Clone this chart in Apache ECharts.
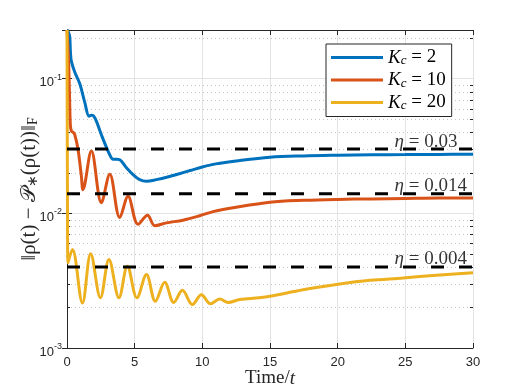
<!DOCTYPE html>
<html>
<head>
<meta charset="utf-8">
<script src="https://cdn.jsdelivr.net/npm/echarts@6/dist/echarts.min.js"></script>
<style>
  html, body { margin: 0; padding: 0; background: #fff; }
  #chart { width: 523px; height: 392px; }
</style>
</head>
<body>
<div id="chart"></div>
<script>
// values
const tBlue = [0, 0.1, 0.2, 0.25, 0.32, 0.57, 0.94, 1.31, 1.63, 1.8, 1.95, 2.17, 2.6, 3.16, 3.4, 3.65, 3.9, 4.39, 4.9, 5.37, 5.87, 6.6, 7.5, 8.3, 9.1, 10, 11, 12.5, 15, 17.5, 20, 22.5, 25, 27.5, 30];
const vBlue = [0.23, 0.222, 0.205, 0.16, 0.135, 0.112, 0.092, 0.067, 0.0527, 0.0535, 0.053, 0.0484, 0.037, 0.0272, 0.0252, 0.0252, 0.025, 0.0218, 0.0193, 0.0178, 0.0173, 0.0178, 0.0187, 0.0197, 0.0208, 0.0221, 0.0233, 0.0245, 0.0261, 0.0267, 0.027, 0.0272, 0.0273, 0.0274, 0.0275];

const tRed = [0, 0.1, 0.18, 0.25, 0.33, 0.45, 0.57, 0.81, 1.06, 1.18, 1.8, 2.54, 3.16, 3.9, 4.51, 5.25, 5.95, 6.48, 7.35, 8.57, 9.81, 10.79, 12.27, 15, 17.5, 20, 22.5, 25, 27.5, 30];
const vRed = [0.23, 0.15, 0.08, 0.045, 0.0407, 0.04, 0.0385, 0.03, 0.019, 0.015, 0.029, 0.012, 0.0195, 0.0093, 0.0134, 0.0083, 0.0097, 0.0081, 0.0085, 0.0089, 0.0096, 0.0103, 0.011, 0.0121, 0.0125, 0.0127, 0.0128, 0.0129, 0.013, 0.013];

const tYellow = [0, 0.03, 0.07, 0.4, 1.14, 1.75, 2.47, 3.1, 3.84, 4.46, 5.17, 5.87, 6.53, 7.22, 7.89, 8.53, 9.27, 9.93, 10.6, 11.29, 11.9, 12.76, 14.19, 15, 17.44, 19.9, 22.37, 24.83, 27.3, 30];
const vYellow = [0.23, 0.02, 0.0043, 0.0054, 0.00216, 0.00502, 0.00236, 0.00454, 0.00236, 0.00405, 0.00236, 0.00351, 0.00222, 0.00308, 0.00218, 0.00268, 0.0021, 0.00249, 0.00213, 0.00231, 0.00218, 0.00229, 0.00236, 0.00242, 0.00271, 0.00296, 0.00318, 0.00331, 0.00347, 0.00362];

const seriesNames = ['Kc = 2', 'Kc = 10', 'Kc = 20'];
const kcValues = ['2', '10', '20'];

const etaValues = [0.03, 0.014, 0.004];
const etaTexts = ['0.03', '0.014', '0.004'];
const etaLabelT = 24.2;

const minorValues = [0.002, 0.003, 0.004, 0.005, 0.006, 0.007, 0.008, 0.009,
                     0.02, 0.03, 0.04, 0.05, 0.06, 0.07, 0.08, 0.09, 0.2];

const colors = ['#0072BD', '#D95319', '#EDB120'];
const serif = 'Liberation Serif';
const sans = 'Liberation Sans';
const ink = '#262626';

function pairs(ts, vs) {
  return ts.map((t, i) => [t, vs[i]]);
}

const myChart = echarts.init(document.getElementById('chart'));

const curves = [[tBlue, vBlue], [tRed, vRed], [tYellow, vYellow]].map((c, i) => ({
  name: seriesNames[i],
  type: 'line',
  data: pairs(c[0], c[1]),
  showSymbol: false,
  smooth: 0.35,
  color: colors[i],
  lineStyle: { width: 3, color: colors[i] },
  z: 3 + i,
  silent: true
}));

const thresholds = etaValues.map(eta => ({
  type: 'line',
  data: [[0, eta], [30, eta]],
  showSymbol: false,
  lineStyle: { width: 3, color: '#000', type: [13, 15], cap: 'butt' },
  z: 8,
  silent: true
}));

const option = {
  animation: false,
  grid: { left: 67, right: 50, top: 30, bottom: 44, outerBoundsMode: 'none', containLabel: false },
  xAxis: [{
    type: 'value',
    min: 0, max: 30, interval: 5,
    name: '{n|Time/}{i|t}',
    nameLocation: 'middle',
    nameGap: 21,
    nameMoveOverlap: false,
    nameTextStyle: {
      rich: {
        n: { fontFamily: serif, fontSize: 19, color: ink },
        i: { fontFamily: serif, fontSize: 19, fontStyle: 'italic', color: ink }
      }
    },
    axisLine: { show: true, lineStyle: { color: ink, width: 1 } },
    axisTick: { show: true, inside: true, length: 5, lineStyle: { color: ink } },
    axisLabel: { fontFamily: sans, fontSize: 13, color: ink, margin: 8 },
    splitLine: { show: true, lineStyle: { color: '#e3e3e3', width: 1 } }
  }, {
    type: 'value',
    position: 'top',
    min: 0, max: 30, interval: 5,
    axisLine: { show: true, lineStyle: { color: ink, width: 1 } },
    axisTick: { show: true, inside: true, length: 5, lineStyle: { color: ink } },
    axisLabel: { show: false },
    splitLine: { show: false }
  }],
  yAxis: [{
    type: 'log',
    logBase: 10,
    min: 0.001, max: 0.23,
    name: '‖ρ(t) − 𝒫{s|∗}(ρ(t))‖{s|F}',
    nameLocation: 'middle',
    nameRotate: 90,
    nameGap: 27,
    nameMoveOverlap: false,
    nameTextStyle: {
      fontFamily: serif, fontSize: 21, color: ink,
      rich: {
        s: { fontFamily: serif, fontSize: 14, color: ink, verticalAlign: 'bottom', lineHeight: 13 }
      }
    },
    axisLine: { show: true, lineStyle: { color: ink, width: 1 } },
    axisTick: { show: true, inside: true, length: 5, lineStyle: { color: ink } },
    axisLabel: {
      margin: 5,
      padding: [8, 0, 0, 0],
      showMaxLabel: false,
      formatter: v => {
        const e = Math.log10(v);
        if (Math.abs(e - Math.round(e)) > 1e-6) return '';
        return '{b|10}{s|' + Math.round(e) + '}';
      },
      rich: {
        b: { fontFamily: sans, fontSize: 13, color: ink, lineHeight: 20 },
        s: { fontFamily: sans, fontSize: 9, color: ink, verticalAlign: 'top', lineHeight: 10 }
      }
    },
    splitLine: { show: true, lineStyle: { color: '#e3e3e3', width: 1 } }
  }, {
    type: 'log',
    logBase: 10,
    position: 'right',
    min: 0.001, max: 0.23,
    axisLine: { show: true, lineStyle: { color: ink, width: 1 } },
    axisTick: { show: true, inside: true, length: 5, lineStyle: { color: ink } },
    axisLabel: { show: false },
    splitLine: { show: false }
  }],
  legend: {
    data: seriesNames,
    orient: 'vertical',
    left: 326, top: 44,
    icon: 'rect',
    itemWidth: 52, itemHeight: 3,
    itemGap: 3,
    padding: [4, 6, 4, 5],
    borderColor: ink, borderWidth: 1,
    backgroundColor: '#fff',
    selectedMode: false,
    formatter: name => '{i|K}{c|c}{n| = ' + kcValues[seriesNames.indexOf(name)] + '}',
    textStyle: {
      rich: {
        i: { fontFamily: serif, fontSize: 19, fontStyle: 'italic', color: '#000', lineHeight: 20 },
        c: { fontFamily: serif, fontSize: 13, fontStyle: 'italic', color: '#000', verticalAlign: 'bottom', lineHeight: 12 },
        n: { fontFamily: serif, fontSize: 19, color: '#000', lineHeight: 20 }
      }
    }
  },
  series: [{
    type: 'custom',
    data: minorValues.map(v => [0, v]),
    silent: true,
    z: 1,
    renderItem: (params, api) => {
      const cs = params.coordSys;
      const y = Math.round(api.coord([0, api.value(1)])[1]) + 0.5;
      const x0 = cs.x, x1 = cs.x + cs.width;
      return {
        type: 'group',
        children: [
          { type: 'line', shape: { x1: x0, y1: y, x2: x1, y2: y }, style: { stroke: '#c4c4c4', lineWidth: 1, lineDash: [1, 3] } },
          { type: 'line', shape: { x1: x0, y1: y, x2: x0 + 3, y2: y }, style: { stroke: ink, lineWidth: 1 } },
          { type: 'line', shape: { x1: x1 - 3, y1: y, x2: x1, y2: y }, style: { stroke: ink, lineWidth: 1 } }
        ]
      };
    }
  }].concat(curves, thresholds, [{
    type: 'scatter',
    data: etaValues.map((eta, i) => ({ value: [etaLabelT, eta], name: etaTexts[i] })),
    symbolSize: 0,
    silent: true,
    z: 9,
    label: {
      show: true,
      position: 'insideBottomLeft',
      distance: 0,
      offset: [0, 2],
      formatter: p => '{e|η}{n| = ' + p.name + '}',
      rich: {
        e: { fontFamily: serif, fontSize: 19, fontStyle: 'italic', color: '#000' },
        n: { fontFamily: serif, fontSize: 19, color: '#000' }
      }
    }
  }])
};

myChart.setOption(option, true);

window.addEventListener('resize', () => {
  myChart.resize();
});
</script>
</body>
</html>
